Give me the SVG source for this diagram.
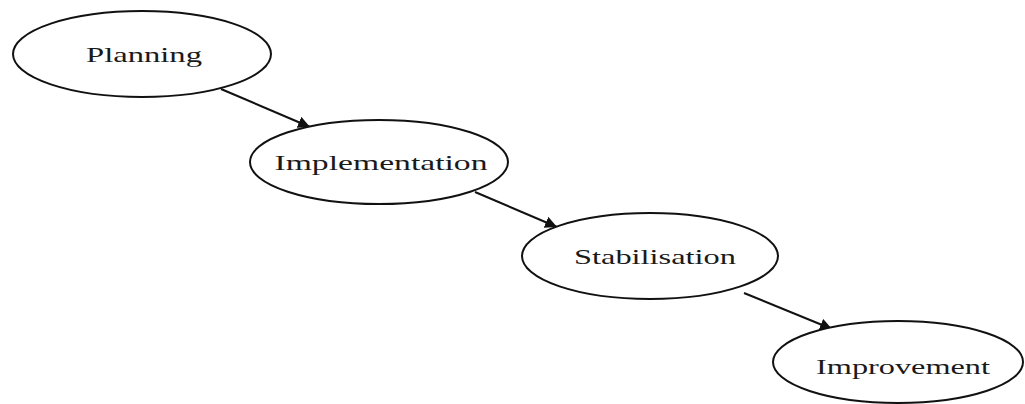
<svg xmlns="http://www.w3.org/2000/svg" width="1025" height="404" viewBox="0 0 1025 404">
  <defs>
    <marker id="arrow" viewBox="0 0 10 10" refX="10" refY="5" markerWidth="6" markerHeight="6" markerUnits="strokeWidth" orient="auto">
      <path d="M0,0 L10,5 L0,10 z" fill="#111"/>
    </marker>
    <style>
      .node ellipse { fill: #fff; stroke: #111; stroke-width: 2; }
      .node text { font-family: "Liberation Serif", "Times New Roman", serif; font-size: 21px; fill: #1a1a1a; text-anchor: middle; }
      .edge { stroke: #111; stroke-width: 2; fill: none; marker-end: url(#arrow); }
    </style>
  </defs>
  <rect width="1025" height="404" fill="#fff"/>

  <g id="connectors">
    <line class="edge" x1="221" y1="89" x2="310" y2="127"/>
    <line class="edge" x1="475" y1="192" x2="557" y2="227"/>
    <line class="edge" x1="744" y1="293" x2="832" y2="329"/>
  </g>

  <g id="planning" class="node">
    <ellipse cx="142" cy="54" rx="129" ry="43"/>
    <text x="144" y="62" textLength="116" lengthAdjust="spacingAndGlyphs">Planning</text>
  </g>

  <g id="implementation" class="node">
    <ellipse cx="379" cy="162" rx="129" ry="42"/>
    <text x="381" y="170" textLength="213" lengthAdjust="spacingAndGlyphs">Implementation</text>
  </g>

  <g id="stabilisation" class="node">
    <ellipse cx="650" cy="256" rx="128" ry="43"/>
    <text x="655" y="264" textLength="162" lengthAdjust="spacingAndGlyphs">Stabilisation</text>
  </g>

  <g id="improvement" class="node">
    <ellipse cx="898" cy="362" rx="125" ry="41"/>
    <text x="903" y="374" textLength="174" lengthAdjust="spacingAndGlyphs">Improvement</text>
  </g>
</svg>
